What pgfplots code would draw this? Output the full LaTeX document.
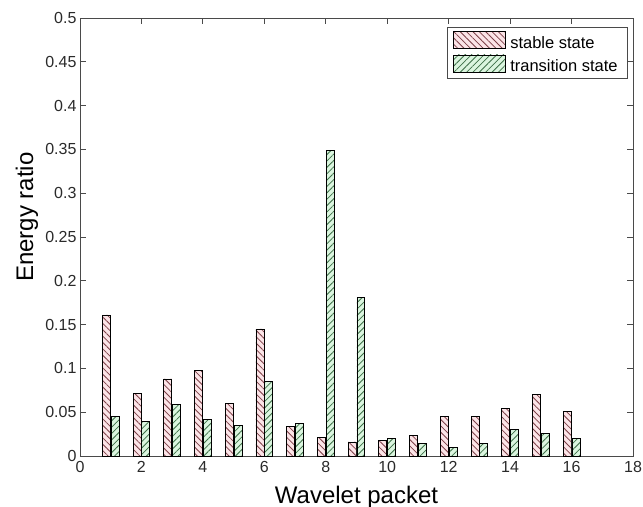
\documentclass[border=0pt]{standalone}
\usepackage{pgfplots}
\pgfplotsset{compat=1.18}
\usepackage{pgfplotstable}
\usepackage{fontspec}
\setmainfont{Liberation Sans}
\usetikzlibrary{patterns.meta}
\definecolor{stfill}{HTML}{FBE4E7}
\definecolor{sthatch}{HTML}{7D4048}
\definecolor{trfill}{HTML}{DBF5DF}
\definecolor{trhatch}{HTML}{3E7048}
\definecolor{axgray}{HTML}{4A4A4A}
\definecolor{lblgray}{HTML}{2A2A2A}

\pgfplotstableread{
x stable
1 0.161
2 0.071
3 0.088
4 0.098
5 0.060
6 0.145
7 0.034
8 0.021
9 0.016
10 0.018
11 0.023
12 0.045
13 0.045
14 0.054
15 0.070
16 0.051
}\stabledata
\pgfplotstableread{
x trans
1 0.045
2 0.039
3 0.059
4 0.042
5 0.035
6 0.085
7 0.037
8 0.349
9 0.181
10 0.020
11 0.014
12 0.010
13 0.014
14 0.030
15 0.026
16 0.020
}\transdata

\begin{document}
\begin{tikzpicture}
\begin{axis}[
  scale only axis,
  width=553bp, height=438bp,
  xmin=0, xmax=18, ymin=0, ymax=0.5,
  xtick={0,2,4,6,8,10,12,14,16,18},
  ytick={0,0.05,0.1,0.15,0.2,0.25,0.3,0.35,0.4,0.45,0.5},
  yticklabel style={/pgf/number format/fixed,/pgf/number format/precision=2},
  /pgf/number format/assume math mode=true,
  tick label style={font=\fontsize{16bp}{19bp}\selectfont, text=lblgray},
  xticklabel style={yshift=-2bp},
  tick pos=both, tick align=inside,
  major tick length=6bp,
  axis line style={draw=axgray, line width=0.8bp},
  every tick/.style={draw=axgray, line width=0.8bp},
  xlabel={Wavelet packet},
  ylabel={Energy ratio},
  every axis x label/.style={at={(axis description cs:0.5,0)}, yshift=-41bp, anchor=center,
    font=\fontsize{24bp}{28bp}\selectfont},
  every axis y label/.style={at={(axis description cs:-0.096,0.545)}, rotate=90, anchor=center,
    font=\fontsize{24bp}{28bp}\selectfont},
  legend cell align=left,
  legend style={at={(1,1)}, anchor=north east, xshift=-5bp, yshift=-9bp,
    draw=axgray, line width=0.8bp, font=\fontsize{16.5bp}{19bp}\selectfont,
    inner xsep=6bp, inner ysep=4bp, row sep=3bp,
    nodes={inner sep=2bp, inner xsep=4bp}},
  legend image code/.code={\draw[#1, line width=0.8bp] (0bp,-6bp) rectangle (52bp,11bp);},
]
\addplot[ybar, bar width=0.26, bar shift=-0.143, fill=stfill, draw=black, line width=0.8bp,
  postaction={pattern={Lines[angle=-45,distance=4.5bp,line width=0.8bp]}, pattern color=sthatch}]
  table[x=x, y=stable] {\stabledata};
\addlegendentry{stable state}
\addplot[ybar, bar width=0.26, bar shift=0.143, fill=trfill, draw=black, line width=0.8bp,
  postaction={pattern={Lines[angle=45,distance=4.5bp,line width=0.8bp]}, pattern color=trhatch}]
  table[x=x, y=trans] {\transdata};
\addlegendentry{transition state}
\end{axis}
\pgfresetboundingbox
\path (-80bp,-51bp) rectangle (563bp,456bp);
\end{tikzpicture}
\end{document}
